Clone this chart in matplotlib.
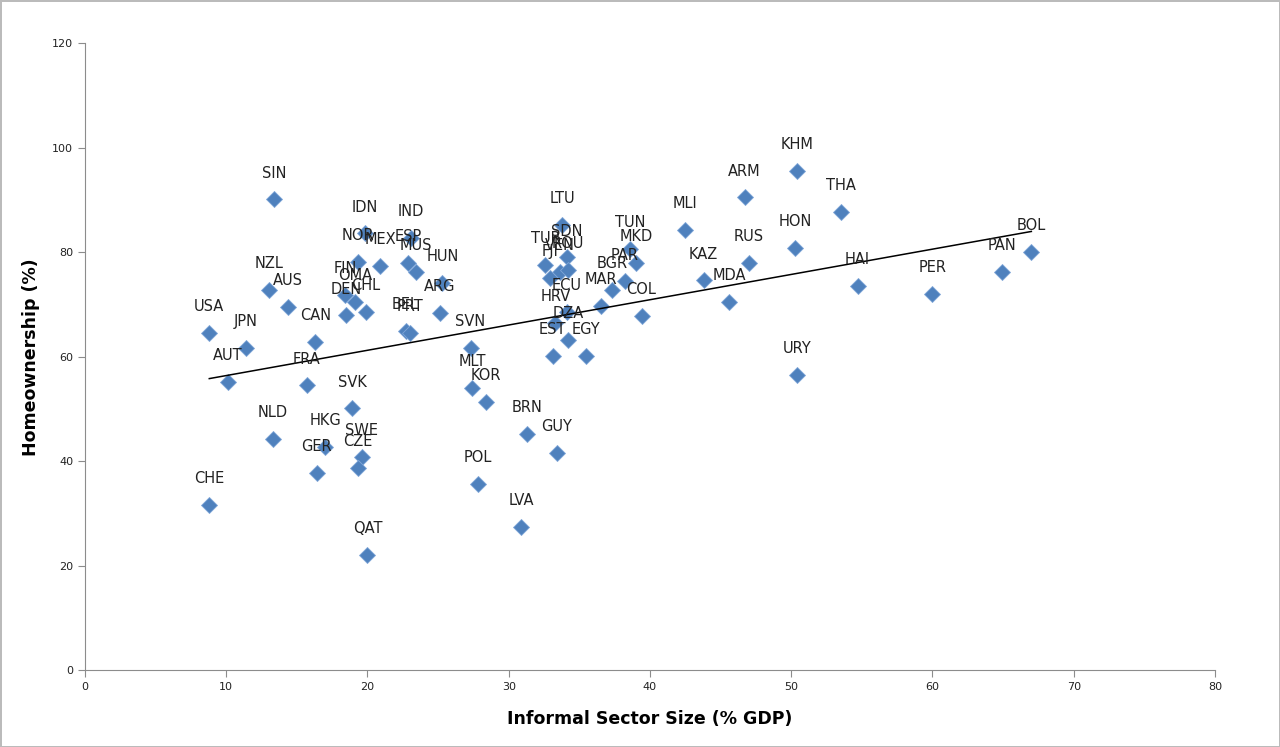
import matplotlib
matplotlib.use("Agg")
import matplotlib.pyplot as plt
import numpy as np

# codigos de pais, tamanho do setor informal (% PIB) e taxa de propriedade (%)
codes = ["CHE", "USA", "AUT", "JPN", "NZL", "AUS", "SIN", "NLD", "FRA", "CAN",
         "HKG", "GER", "SVK", "SWE", "CZE", "QAT", "IDN", "NOR", "MEX", "IND",
         "ESP", "MUS", "HUN", "FIN", "OMA", "DEN", "CHL", "ARG", "BEL", "PRT",
         "SVN", "MLT", "KOR", "POL", "LVA", "BRN", "GUY", "LTU", "SDN", "TUR",
         "VEN", "ROU", "FJI", "ECU", "HRV", "DZA", "EST", "EGY", "MAR", "BGR",
         "PAR", "MKD", "TUN", "COL", "MLI", "KAZ", "MDA", "ARM", "RUS", "KHM",
         "HON", "URY", "THA", "HAI", "PER", "PAN", "BOL"]
informal = [8.8, 8.8, 10.1, 11.4, 13.0, 14.4, 13.4, 13.3, 15.7, 16.3,
            17.0, 16.4, 18.9, 19.6, 19.3, 20.0, 19.8, 19.3, 20.9, 23.1,
            22.9, 23.4, 25.3, 18.4, 19.1, 18.5, 19.9, 25.1, 22.7, 23.0,
            27.3, 27.4, 28.4, 27.8, 30.9, 31.3, 33.4, 33.8, 34.1, 32.6,
            33.6, 34.2, 32.9, 34.1, 33.3, 34.2, 33.1, 35.5, 36.5, 37.3,
            38.2, 39.0, 38.6, 39.4, 42.5, 43.8, 45.6, 46.7, 47.0, 50.4,
            50.3, 50.4, 53.5, 54.7, 60.0, 64.9, 67.0]
homeown = [31.6, 64.5, 55.1, 61.6, 72.7, 69.5, 90.1, 44.2, 54.5, 62.8,
           42.7, 37.7, 50.1, 40.8, 38.7, 22.0, 83.6, 78.1, 77.3, 82.7,
           77.9, 76.2, 74.1, 71.8, 70.4, 67.9, 68.5, 68.3, 64.9, 64.5,
           61.6, 54.0, 51.3, 35.6, 27.4, 45.2, 41.5, 85.2, 79.0, 77.5,
           76.2, 76.6, 75.0, 68.5, 66.4, 63.2, 60.1, 60.1, 69.7, 72.7,
           74.4, 77.9, 80.6, 67.8, 84.2, 74.6, 70.4, 90.5, 77.9, 95.5,
           80.8, 56.5, 87.7, 73.5, 72.0, 76.2, 80.0]

x = np.array(informal)
y = np.array(homeown)

fig = plt.figure(figsize=(12.8, 7.47), dpi=100)
fig.patch.set_edgecolor("#bbbbbb")
fig.patch.set_linewidth(2)
ax = fig.add_axes([0.0664, 0.103, 0.8828, 0.839])

ax.plot(x, y, "D", color="#4F81BD", markeredgecolor="#7fa6d8",
        markeredgewidth=0.6, markersize=8, zorder=3)

# linha de tendencia (regressao linear)
a, b = np.polyfit(x, y, 1)
xl = np.array([x.min(), x.max()])
ax.plot(xl, a * xl + b, color="black", lw=1.1, zorder=4)

for c, xi, yi in zip(codes, x, y):
    ax.annotate(c, (xi, yi), xytext=(0, 19), textcoords="offset points",
                ha="center", va="center", fontsize=10.5, color="#222222",
                zorder=5)

ax.set_xlim(0, 80)
ax.set_ylim(0, 120)
ax.set_xticks(range(0, 81, 10))
ax.set_yticks(range(0, 121, 20))
for s in ["top", "right"]:
    ax.spines[s].set_visible(False)
for s in ["left", "bottom"]:
    ax.spines[s].set_color("#8c8c8c")
ax.tick_params(colors="#8c8c8c", labelcolor="#222222", labelsize=8,
               length=5, direction="out")
ax.set_xlabel("Informal Sector Size (% GDP)", fontsize=12.5,
              fontweight="bold", labelpad=13)
ax.set_ylabel("Homeownership (%)", fontsize=12.5, fontweight="bold",
              labelpad=9)

fig.savefig("out.png", dpi=100, edgecolor=fig.get_edgecolor())
